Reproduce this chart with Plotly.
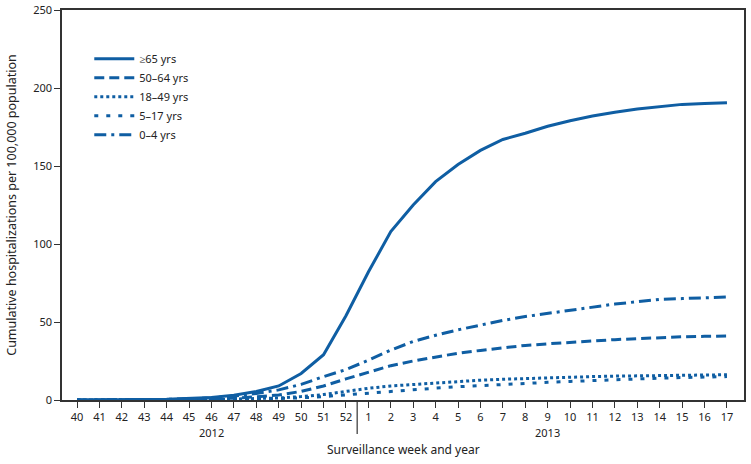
import plotly.graph_objects as go

weeks = ["40","41","42","43","44","45","46","47","48","49","50","51","52",
         "1","2","3","4","5","6","7","8","9","10","11","12","13","14","15","16","17"]

age_65 = [0, 0, 0.2, 0.3, 0.5, 1, 1.6, 3, 5.5, 9, 17, 29, 54,
          82, 108, 125, 140, 151, 160, 167, 171, 175.5, 179, 182, 184.5, 186.5, 188, 189.5, 190, 190.5]
age_50_64 = [0, 0, 0.1, 0.2, 0.3, 0.5, 0.8, 1.2, 2, 3.2, 5.5, 9, 13.5,
             18, 22, 25, 27.5, 30, 31.8, 33.5, 35, 36, 37, 38, 38.7, 39.3, 40, 40.5, 40.8, 41]
age_18_49 = [0, 0, 0, 0.1, 0.2, 0.3, 0.4, 0.6, 0.9, 1.3, 2.2, 3.5, 5.5,
             7.5, 9, 10, 11, 12, 12.7, 13.3, 13.8, 14.2, 14.6, 15, 15.3, 15.5, 15.7, 15.9, 16, 16.2]
age_5_17 = [0, 0, 0, 0, 0.1, 0.2, 0.3, 0.4, 0.6, 0.9, 1.4, 2.2, 3.3,
            4.5, 5.7, 6.7, 7.6, 8.5, 9.3, 10, 10.7, 11.3, 11.9, 12.5, 13, 13.5, 14, 14.4, 14.7, 15]
age_0_4 = [0, 0, 0.1, 0.2, 0.4, 0.8, 1.4, 2.5, 4.2, 6.5, 10, 15, 19.5,
           25.5, 32, 37.5, 41.5, 45, 48, 51, 53.5, 55.5, 57.5, 59.5, 61.5, 63, 64.5, 65, 65.5, 66]

series = [
    ("≥65 yrs", age_65, "solid"),
    ("50–64 yrs", age_50_64, "10px,5px"),
    ("18–49 yrs", age_18_49, "3px,3px"),
    ("5–17 yrs", age_5_17, "4px,8px"),
    ("0–4 yrs", age_0_4, "12px,5px,3px,5px"),
]

color = "#0f5ea3"
xidx = list(range(len(weeks)))

fig = go.Figure()
for name, vals, dash in series:
    fig.add_trace(go.Scatter(x=xidx, y=vals, mode="lines", name=name,
                             line=dict(color=color, width=3, dash=dash)))

fig.update_layout(
    width=751, height=464,
    margin=dict(l=62, r=7, t=10, b=64, autoexpand=False),
    plot_bgcolor="white", paper_bgcolor="white",
    font=dict(family="Noto Sans", size=11, color="#222"),
    showlegend=True,
    legend=dict(x=0.04, y=0.912, xanchor="left", yanchor="top",
                bgcolor="rgba(0,0,0,0)", font=dict(size=11),
                tracegroupgap=0, itemwidth=40),
    xaxis=dict(range=[-0.67, 29.76], tickmode="array", tickvals=xidx, ticktext=weeks,
               showgrid=False, zeroline=False, showline=True, linecolor="#333", linewidth=1.5,
               mirror=True, ticks="outside", ticklen=6, tickcolor="#333", fixedrange=True,
               automargin=False),
    yaxis=dict(range=[0, 250], tickvals=[0, 50, 100, 150, 200, 250],
               showgrid=False, zeroline=False, showline=True, linecolor="#333", linewidth=1.5,
               mirror=True, ticks="outside", ticklen=6, tickcolor="#333", automargin=False,
               title=dict(text="Cumulative hospitalizations per 100,000 population",
                          font=dict(size=12.5), standoff=14)),
)

fig.add_shape(type="line", xref="x", yref="paper", x0=12.5, x1=12.5, y0=0, y1=-0.087,
              line=dict(color="#333", width=1.2))
fig.add_annotation(x=6, y=-0.083, xref="x", yref="paper", text="2012", showarrow=False,
                   font=dict(size=11), yanchor="middle")
fig.add_annotation(x=21, y=-0.083, xref="x", yref="paper", text="2013", showarrow=False,
                   font=dict(size=11), yanchor="middle")
fig.add_annotation(x=0.5, y=-0.128, xref="paper", yref="paper", text="Surveillance week and year",
                   showarrow=False, font=dict(size=12), yanchor="middle")

fig.write_html("out.html", config={"displayModeBar": False},
               post_script="document.body.style.margin='0';document.body.style.overflow='hidden';")
